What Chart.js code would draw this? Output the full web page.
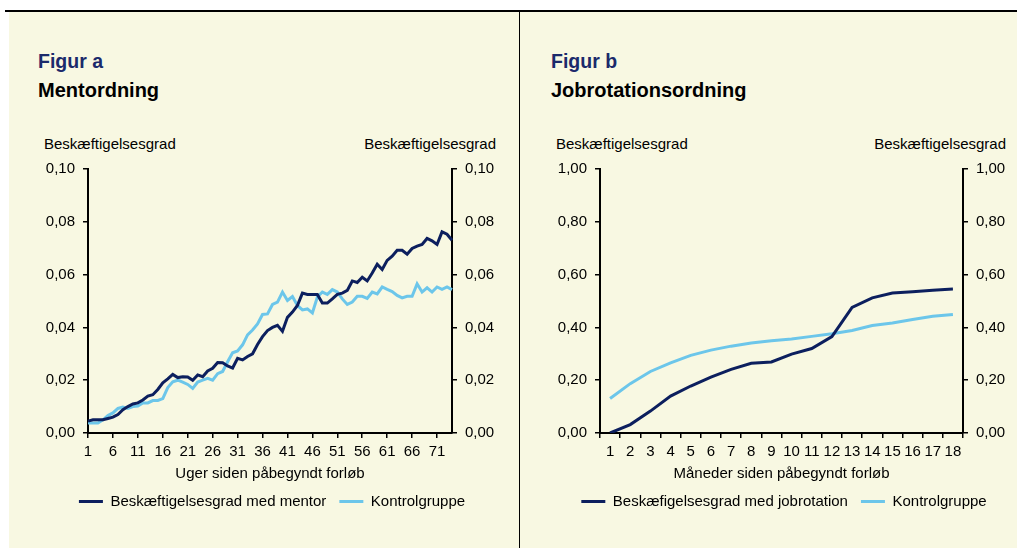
<!DOCTYPE html>
<html>
<head>
<meta charset="utf-8">
<script src="https://cdn.jsdelivr.net/npm/chart.js@4.4.0/dist/chart.umd.min.js"></script>
<style>
  body { margin: 0; background: #fff; font-family: "Liberation Sans", Arial, sans-serif; overflow: hidden; }
  .abs { position: absolute; }
  .fig { font-size: 19.5px; font-weight: bold; color: #1b2a6b; line-height: 19px; white-space: nowrap; }
  .name { font-size: 20px; font-weight: bold; color: #000; line-height: 19px; white-space: nowrap; }
  .ytitle { font-size: 15px; color: #000; line-height: 15px; white-space: nowrap; }
</style>
</head>
<body>
<div class="abs" style="left:9px;top:11px;width:1008px;height:537px;background:#f8f8e2"></div>
<div class="abs" style="left:5px;top:10px;width:1012px;height:1.5px;background:#000"></div>
<div class="abs" style="left:518.5px;top:11px;width:1px;height:537px;background:#000"></div>

<div class="abs fig" style="left:38px;top:52px">Figur a</div>
<div class="abs name" style="left:38px;top:80.5px">Mentordning</div>
<div class="abs ytitle" style="left:44px;top:135.5px">Beskæftigelsesgrad</div>
<div class="abs ytitle" style="right:521px;top:135.5px">Beskæftigelsesgrad</div>

<div class="abs fig" style="left:551px;top:52px">Figur b</div>
<div class="abs name" style="left:551px;top:80.5px">Jobrotationsordning</div>
<div class="abs ytitle" style="left:556px;top:135.5px">Beskæftigelsesgrad</div>
<div class="abs ytitle" style="right:11px;top:135.5px">Beskæftigelsesgrad</div>

<div class="abs" style="left:10px;top:120px;width:524px;height:428px"><canvas id="chartA" width="524" height="428"></canvas></div>
<div class="abs" style="left:551px;top:120px;width:466px;height:428px"><canvas id="chartB" width="466" height="428"></canvas></div>

<script>
// Figur a - uger
var weeks = ["1","2","3","4","5","6","7","8","9","10","11","12","13","14","15","16","17","18","19","20",
  "21","22","23","24","25","26","27","28","29","30","31","32","33","34","35","36","37","38","39","40",
  "41","42","43","44","45","46","47","48","49","50","51","52","53","54","55","56","57","58","59","60",
  "61","62","63","64","65","66","67","68","69","70","71","72","73","74"];
var mentor = [0.0045,0.005,0.005,0.005,0.0055,0.006,0.007,0.0088,0.010,0.011,
  0.0114,0.0125,0.014,0.0145,0.0165,0.019,0.0205,0.0222,0.021,0.0213,
  0.0212,0.020,0.022,0.0213,0.0235,0.0245,0.0267,0.0266,0.0254,0.0246,
  0.0283,0.0277,0.029,0.030,0.0335,0.0365,0.0388,0.040,0.0408,0.0385,
  0.0438,0.0458,0.0483,0.053,0.0525,0.0525,0.0525,0.0492,0.0492,0.0508,
  0.0525,0.053,0.054,0.0576,0.057,0.059,0.0576,0.0606,0.0639,0.0619,
  0.0654,0.067,0.0692,0.0692,0.0677,0.0699,0.0708,0.0714,0.0737,0.0728,
  0.0714,0.0762,0.0753,0.073];
var kontrolA = [0.0038,0.0038,0.0038,0.005,0.0066,0.0076,0.0093,0.0098,0.0093,0.010,
  0.0102,0.0114,0.0114,0.0123,0.0123,0.013,0.0172,0.0194,0.020,0.0193,
  0.0184,0.0169,0.0193,0.020,0.0207,0.020,0.0225,0.0233,0.027,0.0304,
  0.0311,0.0334,0.0372,0.039,0.0413,0.0449,0.0451,0.0487,0.0496,0.0534,
  0.0502,0.0517,0.0483,0.0466,0.047,0.0455,0.0515,0.0534,0.0525,0.0543,
  0.0534,0.0508,0.0487,0.0496,0.0518,0.0518,0.051,0.0534,0.0527,0.0553,
  0.0544,0.0536,0.0521,0.0512,0.0518,0.0518,0.0565,0.0534,0.055,0.0534,
  0.0553,0.0544,0.0553,0.0543];

// Figur b - måneder
var months = ["1","2","3","4","5","6","7","8","9","10","11","12","13","14","15","16","17","18"];
var jobrotation = [0.00,0.032,0.083,0.14,0.178,0.212,0.241,0.264,0.269,0.299,0.32,0.365,0.476,0.512,0.53,0.535,0.541,0.545];
var kontrolB = [0.131,0.187,0.233,0.266,0.294,0.314,0.329,0.341,0.349,0.356,0.366,0.376,0.388,0.407,0.417,0.43,0.442,0.449];

var navy = "#0c1f5e";
var light = "#6cc6ea";
var font = "'Liberation Sans', Arial, sans-serif";

function comma(v) { return v.toFixed(2).replace(".", ","); }

function yAxis(pos, max, width) {
  return {
    position: pos,
    min: 0, max: max,
    afterFit: function(s) { s.width = width; },
    grid: { drawOnChartArea: false, color: "#000", lineWidth: 1.5, tickLength: 5 },
    border: { color: "#000", width: 2 },
    ticks: { stepSize: max / 5, padding: 8, color: "#000", font: { family: font, size: 15 },
      callback: function(v) { return comma(v); } }
  };
}

function makeChart(id, labels, s1, s2, name1, xtitle, max, leftW, rightW, every, offset) {
  return new Chart(document.getElementById(id), {
    type: "line",
    data: {
      labels: labels,
      datasets: [
        { label: name1, data: s1, borderColor: navy, backgroundColor: navy, borderWidth: 3, pointRadius: 0, tension: 0, yAxisID: "y" },
        { label: "Kontrolgruppe", data: s2, borderColor: light, backgroundColor: light, borderWidth: 3, pointRadius: 0, tension: 0, yAxisID: "y" }
      ]
    },
    options: {
      responsive: false,
      animation: false,
      devicePixelRatio: 1,
      layout: { padding: { top: 49, bottom: 29, left: 0, right: 0 } },
      scales: {
        x: {
          offset: offset,
          grid: { drawOnChartArea: false, offset: offset, color: "#000", lineWidth: 1.5, tickLength: 5 },
          border: { color: "#000", width: 2 },
          afterBuildTicks: function(s) {
            s.ticks = s.ticks.filter(function(t) { return t.value % every === 0; });
          },
          ticks: { autoSkip: false, maxRotation: 0, padding: 5, color: "#000", font: { family: font, size: 15 } },
          title: { display: true, text: xtitle, color: "#000", padding: { top: 0, bottom: 0 },
            font: { family: font, size: 15, lineHeight: 1 } }
        },
        y: yAxis("left", max, leftW),
        y2: yAxis("right", max, rightW)
      },
      plugins: {
        tooltip: { enabled: false },
        legend: {
          position: "bottom",
          labels: {
            color: "#000",
            font: { family: font, size: 15 },
            boxWidth: 24, boxHeight: 3, padding: 13,
            generateLabels: function(chart) {
              return Chart.defaults.plugins.legend.labels.generateLabels(chart).map(function(l) {
                l.lineWidth = 0; return l;
              });
            }
          }
        }
      }
    }
  });
}

makeChart("chartA", weeks, mentor, kontrolA, "Beskæftigelsesgrad med mentor", "Uger siden påbegyndt forløb", 0.1, 78, 82, 5, false);
makeChart("chartB", months, jobrotation, kontrolB, "Beskæfigelsesgrad med jobrotation", "Måneder siden påbegyndt forløb", 1.0, 49, 54, 1, true);
</script>
</body>
</html>
